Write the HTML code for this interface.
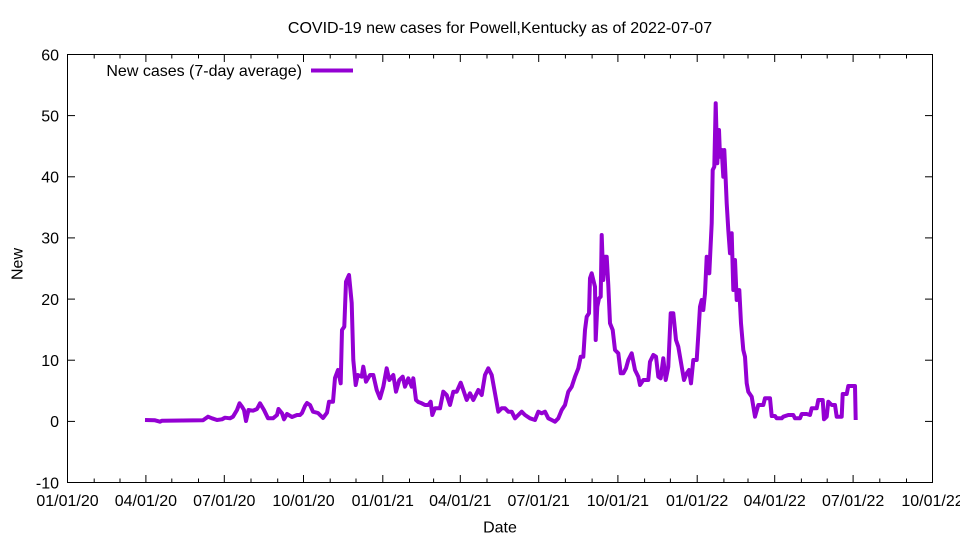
<!DOCTYPE html>
<html>
<head>
<meta charset="utf-8">
<style>
  html, body { margin: 0; padding: 0; background: #ffffff; }
  svg { display: block; }
  text { font-family: "Liberation Sans", Arial, sans-serif; font-size: 16px; fill: #000; }
</style>
</head>
<body>
<svg width="960" height="540" viewBox="0 0 960 540" xmlns="http://www.w3.org/2000/svg">
  <rect x="0" y="0" width="960" height="540" fill="#ffffff"/>

  <!-- Title -->
  <text x="500" y="33" text-anchor="middle">COVID-19 new cases for Powell,Kentucky as of 2022-07-07</text>

  <!-- Y ticks (left and right mirrored) -->
  <g stroke="#000" stroke-width="1">
    <line x1="67.5" y1="54.5" x2="75" y2="54.5"/>
    <line x1="67.5" y1="115.6" x2="75" y2="115.6"/>
    <line x1="67.5" y1="176.8" x2="75" y2="176.8"/>
    <line x1="67.5" y1="237.9" x2="75" y2="237.9"/>
    <line x1="67.5" y1="299.1" x2="75" y2="299.1"/>
    <line x1="67.5" y1="360.2" x2="75" y2="360.2"/>
    <line x1="67.5" y1="421.4" x2="75" y2="421.4"/>
    <line x1="925" y1="54.5" x2="932.5" y2="54.5"/>
    <line x1="925" y1="115.6" x2="932.5" y2="115.6"/>
    <line x1="925" y1="176.8" x2="932.5" y2="176.8"/>
    <line x1="925" y1="237.9" x2="932.5" y2="237.9"/>
    <line x1="925" y1="299.1" x2="932.5" y2="299.1"/>
    <line x1="925" y1="360.2" x2="932.5" y2="360.2"/>
    <line x1="925" y1="421.4" x2="932.5" y2="421.4"/>
  </g>

  <!-- Y tick labels -->
  <g text-anchor="end">
    <text x="59" y="60.3">60</text>
    <text x="59" y="121.4">50</text>
    <text x="59" y="182.6">40</text>
    <text x="59" y="243.7">30</text>
    <text x="59" y="304.9">20</text>
    <text x="59" y="366">10</text>
    <text x="59" y="427.2">0</text>
    <text x="59" y="488.3">-10</text>
  </g>

  <!-- X ticks: major (quarters) and minor (months), bottom and top -->
  <g stroke="#000" stroke-width="1">
    <!-- major bottom -->
    <line x1="67.5" y1="482.5" x2="67.5" y2="475"/>
    <line x1="145.9" y1="482.5" x2="145.9" y2="475"/>
    <line x1="224.3" y1="482.5" x2="224.3" y2="475"/>
    <line x1="303.5" y1="482.5" x2="303.5" y2="475"/>
    <line x1="382.8" y1="482.5" x2="382.8" y2="475"/>
    <line x1="460.3" y1="482.5" x2="460.3" y2="475"/>
    <line x1="538.7" y1="482.5" x2="538.7" y2="475"/>
    <line x1="617.9" y1="482.5" x2="617.9" y2="475"/>
    <line x1="697.2" y1="482.5" x2="697.2" y2="475"/>
    <line x1="774.7" y1="482.5" x2="774.7" y2="475"/>
    <line x1="853.1" y1="482.5" x2="853.1" y2="475"/>
    <line x1="932.5" y1="482.5" x2="932.5" y2="475"/>
    <!-- major top -->
    <line x1="145.9" y1="54.5" x2="145.9" y2="62"/>
    <line x1="224.3" y1="54.5" x2="224.3" y2="62"/>
    <line x1="303.5" y1="54.5" x2="303.5" y2="62"/>
    <line x1="382.8" y1="54.5" x2="382.8" y2="62"/>
    <line x1="460.3" y1="54.5" x2="460.3" y2="62"/>
    <line x1="538.7" y1="54.5" x2="538.7" y2="62"/>
    <line x1="617.9" y1="54.5" x2="617.9" y2="62"/>
    <line x1="697.2" y1="54.5" x2="697.2" y2="62"/>
    <line x1="774.7" y1="54.5" x2="774.7" y2="62"/>
    <line x1="853.1" y1="54.5" x2="853.1" y2="62"/>
    <!-- minor bottom -->
    <line x1="94.2" y1="482.5" x2="94.2" y2="478.5"/>
    <line x1="120" y1="482.5" x2="120" y2="478.5"/>
    <line x1="171.8" y1="482.5" x2="171.8" y2="478.5"/>
    <line x1="198.5" y1="482.5" x2="198.5" y2="478.5"/>
    <line x1="251" y1="482.5" x2="251" y2="478.5"/>
    <line x1="277.7" y1="482.5" x2="277.7" y2="478.5"/>
    <line x1="330.2" y1="482.5" x2="330.2" y2="478.5"/>
    <line x1="356" y1="482.5" x2="356" y2="478.5"/>
    <line x1="409.5" y1="482.5" x2="409.5" y2="478.5"/>
    <line x1="433.6" y1="482.5" x2="433.6" y2="478.5"/>
    <line x1="487" y1="482.5" x2="487" y2="478.5"/>
    <line x1="512.8" y1="482.5" x2="512.8" y2="478.5"/>
    <line x1="565.4" y1="482.5" x2="565.4" y2="478.5"/>
    <line x1="592.1" y1="482.5" x2="592.1" y2="478.5"/>
    <line x1="644.6" y1="482.5" x2="644.6" y2="478.5"/>
    <line x1="670.4" y1="482.5" x2="670.4" y2="478.5"/>
    <line x1="723.9" y1="482.5" x2="723.9" y2="478.5"/>
    <line x1="748" y1="482.5" x2="748" y2="478.5"/>
    <line x1="801.4" y1="482.5" x2="801.4" y2="478.5"/>
    <line x1="827.2" y1="482.5" x2="827.2" y2="478.5"/>
    <line x1="879.8" y1="482.5" x2="879.8" y2="478.5"/>
    <line x1="906.5" y1="482.5" x2="906.5" y2="478.5"/>
    <!-- minor top -->
    <line x1="94.2" y1="54.5" x2="94.2" y2="58.5"/>
    <line x1="120" y1="54.5" x2="120" y2="58.5"/>
    <line x1="171.8" y1="54.5" x2="171.8" y2="58.5"/>
    <line x1="198.5" y1="54.5" x2="198.5" y2="58.5"/>
    <line x1="251" y1="54.5" x2="251" y2="58.5"/>
    <line x1="277.7" y1="54.5" x2="277.7" y2="58.5"/>
    <line x1="330.2" y1="54.5" x2="330.2" y2="58.5"/>
    <line x1="356" y1="54.5" x2="356" y2="58.5"/>
    <line x1="409.5" y1="54.5" x2="409.5" y2="58.5"/>
    <line x1="433.6" y1="54.5" x2="433.6" y2="58.5"/>
    <line x1="487" y1="54.5" x2="487" y2="58.5"/>
    <line x1="512.8" y1="54.5" x2="512.8" y2="58.5"/>
    <line x1="565.4" y1="54.5" x2="565.4" y2="58.5"/>
    <line x1="592.1" y1="54.5" x2="592.1" y2="58.5"/>
    <line x1="644.6" y1="54.5" x2="644.6" y2="58.5"/>
    <line x1="670.4" y1="54.5" x2="670.4" y2="58.5"/>
    <line x1="723.9" y1="54.5" x2="723.9" y2="58.5"/>
    <line x1="748" y1="54.5" x2="748" y2="58.5"/>
    <line x1="801.4" y1="54.5" x2="801.4" y2="58.5"/>
    <line x1="827.2" y1="54.5" x2="827.2" y2="58.5"/>
    <line x1="879.8" y1="54.5" x2="879.8" y2="58.5"/>
    <line x1="906.5" y1="54.5" x2="906.5" y2="58.5"/>
  </g>

  <!-- X tick labels -->
  <g text-anchor="middle">
    <text x="67.5" y="506">01/01/20</text>
    <text x="145.9" y="506">04/01/20</text>
    <text x="224.3" y="506">07/01/20</text>
    <text x="303.5" y="506">10/01/20</text>
    <text x="382.8" y="506">01/01/21</text>
    <text x="460.3" y="506">04/01/21</text>
    <text x="538.7" y="506">07/01/21</text>
    <text x="617.9" y="506">10/01/21</text>
    <text x="697.2" y="506">01/01/22</text>
    <text x="774.7" y="506">04/01/22</text>
    <text x="853.1" y="506">07/01/22</text>
    <text x="932.5" y="506">10/01/22</text>
  </g>

  <!-- Axis labels -->
  <text x="500" y="532.5" text-anchor="middle">Date</text>
  <text x="0" y="0" text-anchor="middle" transform="translate(22.5,264) rotate(-90)">New</text>

  <!-- Legend -->
  <text x="302" y="76" text-anchor="end">New cases (7-day average)</text>
  <line x1="311" y1="70.5" x2="353" y2="70.5" stroke="#9400D3" stroke-width="4"/>

  <!-- Data series -->
  <polyline fill="none" stroke="#9400D3" stroke-width="4" stroke-linejoin="round" stroke-linecap="butt" points="
145,420 155,420.3 160,421.7 162,420.7 203,420.3 208,416.7 212,418.3 217,420 222,419.3 225,417.7 230,418.3 233,416.7
237,410 239.5,403.3 242,406.7 244,410 246,421 248.5,410 253,410.7 257,409 260,403.3 264,410 268,418.3 273,418.3
277,415 278.5,409 282,413.3 284,419.3 287,414 292,417 297,415 300,415 302,413 305,406 307,403 310,405 313,411.7
318,413 323,418 327,412.7 329,401.7 333,401.7 335,378 338,370 340.7,383.3 342,330 344.3,326.7 346,281.7 349,275
351.7,303 353.3,360 355.7,385 357.7,375 361.7,376.7 363.3,366.7 366,381.7 370,375 373.3,375 376.7,390 380,398.3
383.3,386.7 386.7,368.3 389.3,380 393.3,375 396,391.7 399.3,380 402.7,376.7 405,386.7 408.3,378.3 411.7,386.7
413.3,378.3 416,400 418.3,402 421.7,403.3 425,405 428.3,405 430.7,401.7 432.3,415 435,408.3 440,408.3 443.3,391.7
446.7,395 450,405 453.3,391.7 456.7,391.7 460.7,382.7 463.3,390 466.7,400 470,393.3 473.3,400 478.3,390 481.7,395
485,375 488.3,368.3 491.7,375 495,393.3 498.3,411.7 501.7,408.3 505,408.3 508.3,411.7 511.7,411.7 515,418.3
518.3,415 521.7,411.7 525,415 530,418.3 535,420 538.3,411.7 541.7,413.3 545,411.7 548.3,418.3 551.7,420 555,421.7
558.3,418.3 561.7,410 565,405 568.3,391.7 571.7,386.7 575,376.7 578.3,368.3 580.7,356.7 583.3,356.7 585,330
586.7,316.7 589,313.3 590,278.3 591.7,273.3 593.3,280 595,286.7 595.7,340 597.3,306.7 599,298.3 600.7,296.7
601.7,235 603.3,280 605,256.7 606.7,256.7 608.3,285 610,323.3 612.7,330 615,350 618.3,353.3 620.7,373.3 623.3,373.3
626,368.3 628.3,360 631.7,353.3 635,370 638.3,376.7 640,385 643.3,380 648.3,380 650,361.7 653.3,355 656,356.7
658.3,376.7 660.7,378.3 663.3,358.3 665.7,380 668.3,366.7 670.7,313.3 673.3,313.3 676,340 678.3,346.7 681.7,366.7
684,380 686.7,373.3 689,370 691,383.3 693.3,360 696.7,360 698.3,335 700,306.7 701.7,300 703.3,310 705,293.3
706.7,256.7 709.3,273.3 711.7,223.3 712.7,170 714.3,166.7 715.7,103.3 717.3,163.3 719,130 720,156.7 721.7,150
723.3,176.7 724.3,150 725.7,180 726.7,203.3 728.3,230 730,253.3 731.7,233.3 733.3,290 735,260 736.7,300 739.3,290
741,323.3 743.3,350 745,356.7 746.7,383.3 748.3,391.7 751.7,396.7 755,416.7 758.3,405 763.3,405 765,398.3 770,398.3
771.7,416 775,416 776.7,418.3 781.7,418.3 783.3,416.7 788.3,415 793.3,415 795,418.3 800,418.3 801.7,414 806.7,414
810,415 811.7,408.3 816.7,408.3 818.3,400 822.7,400 824,419.3 826.7,416.7 828.3,401.7 831.7,405 835,405 836.7,416.7
841.7,416.7 842.7,394 846.7,394 848.3,386 855,386 855.7,420"/>

  <!-- Plot border -->
  <rect x="67.5" y="54.5" width="865" height="428" fill="none" stroke="#000" stroke-width="1"/>
</svg>
</body>
</html>
